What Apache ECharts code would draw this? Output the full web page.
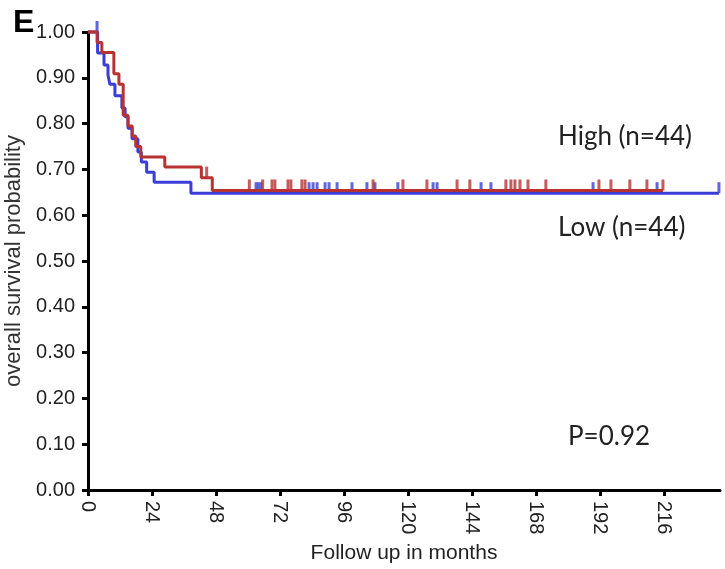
<!DOCTYPE html>
<html lang="en">
<head>
    <meta charset="UTF-8">
    <title>Overall survival - High vs Low</title>
    <script src="https://cdn.jsdelivr.net/npm/echarts@6.0.0/dist/echarts.min.js"></script>
    <style>
        body { margin: 0; background: #fff; }
        #chart { width: 725px; height: 569px; }
    </style>
</head>
<body>
    <div id="chart"></div>
    <script>
        // Kaplan-Meier steps (months, survival)
        const redTimes = [0, 3.4, 5.2, 9.7, 11.6, 13.2, 15, 16.6, 17.9, 19.8, 28.8, 42.5, 46.6, 215.6];
        const redSurv = [1, 0.977, 0.955, 0.909, 0.886, 0.818, 0.795, 0.773, 0.75, 0.727, 0.705, 0.682, 0.654, 0.654];
        const redCensor = [44.5, 60.5, 65.5, 69, 70.1, 75, 76.1, 80.2, 81.4, 106.9, 118.1, 127.1, 138.4, 143.2,
            156.7, 158.6, 160.1, 162, 165, 171.7, 191.6, 196.1, 203.2, 209.6, 215.6];

        const blueTimes = [0, 3.6, 6, 7.5, 8.2, 10.1, 12.7, 13.9, 15, 16.5, 18.7, 20, 22, 24.8, 38.6, 236.6];
        const blueSurv = [1, 0.954, 0.928, 0.906, 0.886, 0.861, 0.834, 0.815, 0.79, 0.767, 0.738, 0.716, 0.694, 0.672, 0.648, 0.648];
        const blueCensor = [3.4, 63, 63.9, 64.9, 82.9, 84.4, 85.9, 88.9, 90.4, 93.4, 99, 104.6, 107.6, 116.2,
            129.4, 130.9, 147.4, 151.1, 189.4, 213.4, 236.6];

        const xTicks = [0, 24, 48, 72, 96, 120, 144, 168, 192, 216];

        const RED = '#b83232';
        const BLUE = '#3a3ed6';
        const FONT = "'Liberation Sans', Arial, sans-serif";

        // survival value of a step curve at time t
        function stepValue(times, surv, t) {
            let v = surv[0];
            for (let i = 0; i < times.length; i++) {
                if (times[i] <= t) v = surv[i];
            }
            return v;
        }

        const redLine = redTimes.map((t, i) => [t, redSurv[i]]);
        const blueLine = blueTimes.map((t, i) => [t, blueSurv[i]]);
        const redTicks = redCensor.map(t => [t, stepValue(redTimes, redSurv, t)]);
        const blueTicks = blueCensor.map(t => [t, stepValue(blueTimes, blueSurv, t)]);

        const chart = echarts.init(document.getElementById('chart'));

        const option = {
            animation: false,
            grid: { left: 88, right: 5, top: 32, bottom: 79, containLabel: false, outerBoundsMode: 'none' },
            xAxis: {
                type: 'value',
                min: 0,
                max: 237,
                offset: 2,
                name: 'Follow up in months',
                nameLocation: 'middle',
                nameGap: 48,
                nameTextStyle: { fontFamily: FONT, fontSize: 21, color: '#222' },
                axisLine: { lineStyle: { color: '#000', width: 3 } },
                axisTick: { show: true, length: 6, customValues: xTicks, lineStyle: { color: '#000', width: 3 } },
                axisLabel: {
                    customValues: xTicks,
                    rotate: -90,
                    margin: 9,
                    fontFamily: FONT,
                    fontSize: 20,
                    color: '#222'
                },
                splitLine: { show: false }
            },
            yAxis: {
                type: 'value',
                min: 0,
                max: 1,
                interval: 0.1,
                offset: 4,
                name: 'overall survival probability',
                nameLocation: 'middle',
                nameGap: 52,
                nameTextStyle: { fontFamily: FONT, fontSize: 22, color: '#333' },
                axisLine: { show: true, lineStyle: { color: '#000', width: 3 } },
                axisTick: { show: true, length: 6, lineStyle: { color: '#000', width: 3 } },
                axisLabel: {
                    margin: 9,
                    fontFamily: FONT,
                    fontSize: 20,
                    color: '#222',
                    formatter: v => v.toFixed(2)
                },
                splitLine: { show: false }
            },
            series: [
                {
                    name: 'Low (n=44)',
                    type: 'line',
                    step: 'end',
                    data: blueLine,
                    symbol: 'none',
                    clip: false,
                    lineStyle: { color: BLUE, width: 3 }
                },
                {
                    type: 'scatter',
                    data: blueTicks,
                    symbol: 'rect',
                    symbolSize: [3, 11],
                    symbolOffset: [0, -5.5],
                    clip: false,
                    itemStyle: { color: BLUE }
                },
                {
                    name: 'High (n=44)',
                    type: 'line',
                    step: 'end',
                    data: redLine,
                    symbol: 'none',
                    clip: false,
                    lineStyle: { color: RED, width: 3 }
                },
                {
                    type: 'scatter',
                    data: redTicks,
                    symbol: 'rect',
                    symbolSize: [3, 11],
                    symbolOffset: [0, -5.5],
                    clip: false,
                    itemStyle: { color: RED }
                }
            ],
            graphic: [
                { type: 'text', left: 13, top: 7, style: { text: 'E', font: "bold 32px " + FONT, fill: '#000' } },
                { type: 'text', left: 558, top: 124, style: { text: 'High (n=44)', font: "26px Lato, 'Open Sans', sans-serif", fill: '#222' } },
                { type: 'text', left: 558, top: 215, style: { text: 'Low (n=44)', font: "26px Lato, 'Open Sans', sans-serif", fill: '#222' } },
                { type: 'text', left: 568, top: 424, style: { text: 'P=0.92', font: "26px Lato, 'Open Sans', sans-serif", fill: '#222' } }
            ]
        };

        chart.setOption(option);
    </script>
</body>
</html>
